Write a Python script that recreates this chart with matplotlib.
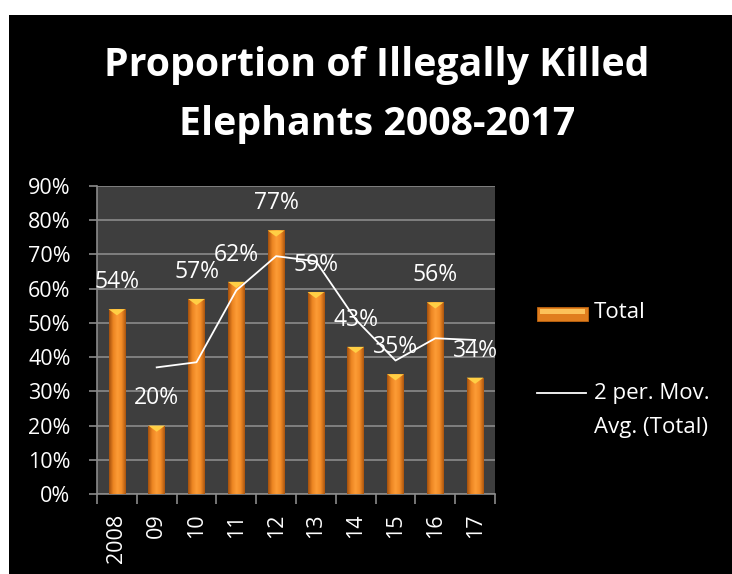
import numpy as np
import matplotlib.pyplot as plt
from matplotlib.patches import Rectangle, Polygon
from matplotlib.lines import Line2D
from matplotlib.colors import LinearSegmentedColormap

# data
years = ['2008', '09', '10', '11', '12', '13', '14', '15', '16', '17']
total = [54, 20, 57, 62, 77, 59, 43, 35, 56, 34]
# 2 period moving average, first point at '09'
mov_avg = [37, 38.5, 59.5, 69.5, 68, 51, 39, 45.5, 45]
yticks = [0, 10, 20, 30, 40, 50, 60, 70, 80, 90]

FONT = 'Open Sans'
W, H = 732, 574

fig = plt.figure(figsize=(W / 100, H / 100), dpi=100, facecolor='white')
# black chart area (white strip on top and left like the screenshot)
fig.patches.append(Rectangle((9 / W, 0), 1, 1 - 15 / H, transform=fig.transFigure,
                             facecolor='black', edgecolor='none', zorder=-10))

ax = fig.add_axes([97 / W, 1 - 494 / H, (495 - 97) / W, (494 - 186) / H])
ax.set_facecolor('#3e3e3e')

x = np.arange(len(years))
bars = ax.bar(x, total, width=0.42, color='#f08a24', zorder=2)

# gradient fill for the bars
cmap = LinearSegmentedColormap.from_list('bar', ['#a4500c', '#ec8522', '#fd9c36', '#f28c27', '#ac560f'])
grad = np.linspace(0, 1, 64).reshape(1, -1)
for b in bars:
    bx, bw, bh = b.get_x(), b.get_width(), b.get_height()
    im = ax.imshow(grad, extent=(bx, bx + bw, 0, bh), aspect='auto', cmap=cmap, zorder=3)
    im.set_clip_path(b)
    cap = Polygon([(bx, bh), (bx + bw, bh), (bx + bw / 2, bh - 1.8)], closed=True,
                  facecolor='#ffcf45', edgecolor='none', zorder=4)
    ax.add_patch(cap)

ax.plot(x[1:], mov_avg, color='white', lw=1.3, zorder=5)

for xi, v in zip(x, total):
    ax.annotate(f'{v}%', (xi, v), xytext=(0, 19.5), textcoords='offset points',
                ha='center', va='center', color='white', fontsize=16.5, family=FONT, zorder=6)

ax.set_xlim(-0.5, len(years) - 0.5)
ax.set_ylim(0, 90)
ax.set_yticks(yticks)
ax.set_yticklabels([f'{t}%' for t in yticks], family=FONT, fontsize=15.5, color='white')
ax.grid(axis='y', color='#8a8a8a', lw=1.2, zorder=1)
ax.set_axisbelow(True)

ax.set_xticks(x)
ax.set_xticklabels(years, rotation=90, family=FONT, fontsize=15.5, color='white', va='top')
ax.set_xticks(np.arange(-0.5, len(years)), minor=True)
ax.tick_params(axis='x', which='major', length=0, pad=14)
ax.tick_params(axis='x', which='minor', length=7, color='#8a8a8a', width=1.2)
ax.tick_params(axis='y', length=6, color='#8a8a8a', width=1.2, pad=13)

for s in ['top', 'right']:
    ax.spines[s].set_visible(False)
for s in ['left', 'bottom']:
    ax.spines[s].set_color('#8a8a8a')
    ax.spines[s].set_linewidth(1.2)

# title
fig.text(377 / W, 1 - 66 / H, 'Proportion of Illegally Killed', ha='center', va='center',
         color='white', fontsize=28.3, fontweight='bold', family=FONT)
fig.text(377 / W, 1 - 124 / H, 'Elephants 2008-2017', ha='center', va='center',
         color='white', fontsize=28.3, fontweight='bold', family=FONT)

# legend drawn by hand, Excel style
fig.patches.append(Rectangle((537 / W, 1 - 321 / H), 51 / W, 14 / H, transform=fig.transFigure,
                             facecolor='#e07e1e', edgecolor='#c0650f', lw=0.6, zorder=3))
fig.patches.append(Rectangle((540 / W, 1 - 314 / H), 45 / W, 5 / H, transform=fig.transFigure,
                             facecolor='#fcc25a', edgecolor='none', zorder=4))
fig.text(594 / W, 1 - 313 / H, 'Total', ha='left', va='center', color='white',
         fontsize=16, family=FONT)
fig.lines.append(Line2D([537 / W, 586 / W], [1 - 393 / H, 1 - 393 / H], transform=fig.transFigure,
                        color='white', lw=1.3))
fig.text(594 / W, 1 - 394 / H, '2 per. Mov.', ha='left', va='center', color='white',
         fontsize=16, family=FONT)
fig.text(594 / W, 1 - 427 / H, 'Avg. (Total)', ha='left', va='center', color='white',
         fontsize=16, family=FONT)

fig.savefig('out.png', dpi=100, facecolor=fig.get_facecolor())
